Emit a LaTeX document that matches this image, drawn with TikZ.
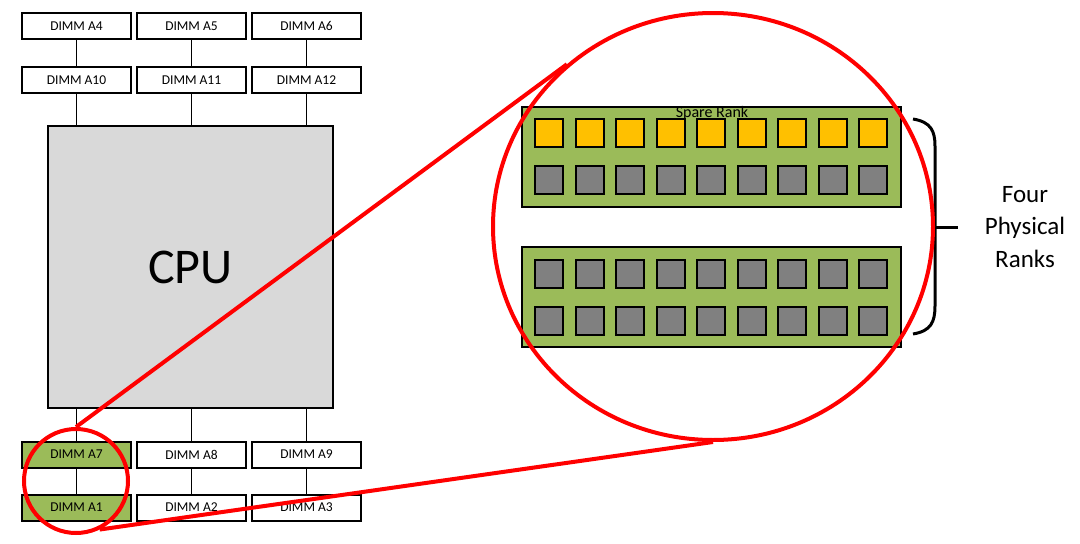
\documentclass[tikz,border=0pt]{standalone}
\usepackage{fontspec}
\setmainfont{Carlito}
\usetikzlibrary{positioning, shapes.geometric}
\definecolor{dimmgreen}{HTML}{9BBB59}
\definecolor{cpugray}{HTML}{D9D9D9}
\definecolor{chipgray}{HTML}{808080}
\definecolor{chiporange}{HTML}{FFC000}
\tikzset{
  dimm/.style={draw, line width=2pt, fill=white, minimum width=109pt, minimum height=26pt, inner sep=0pt, font=\fontsize{13.5}{14}\selectfont},
  used/.style={dimm, fill=dimmgreen},
  bus/.style={line width=1.8pt},
  module/.style={draw, line width=2pt, fill=dimmgreen, minimum width=379pt, minimum height=100pt, inner sep=0pt},
  chip/.style={draw, line width=2pt, fill=#1, minimum size=28pt, inner sep=0pt},
  zoom/.style={draw=red, line width=4pt},
}
\begin{document}
\begin{tikzpicture}[x=1pt, y=-1pt]
  \useasboundingbox (0,0) rectangle (1080,544);
  % CPU and its channels
  \node[draw, line width=2pt, fill=cpugray, minimum width=285pt, minimum height=282pt, inner sep=0pt,
        font=\fontsize{50}{52}\selectfont] (cpu) at (190.5,267) {CPU};
  \node[dimm] (a4) at (76.5,26) {DIMM A4};
  \node[dimm] (a5) at (191.5,26) {DIMM A5};
  \node[dimm] (a6) at (306.5,26) {DIMM A6};
  \node[dimm] (a10) at (76.5,80) {DIMM A10};
  \node[dimm] (a11) at (191.5,80) {DIMM A11};
  \node[dimm] (a12) at (306.5,80) {DIMM A12};
  \node[used] (a7) at (76.5,454.5) {DIMM A7};
  \node[dimm] (a8) at (191.5,454.5) {DIMM A8};
  \node[dimm] (a9) at (306.5,454.5) {DIMM A9};
  \node[used] (a1) at (76.5,507.5) {DIMM A1};
  \node[dimm] (a2) at (191.5,507.5) {DIMM A2};
  \node[dimm] (a3) at (306.5,507.5) {DIMM A3};
  \draw[bus] (a4) -- (a10);
  \draw[bus] (a5) -- (a11);
  \draw[bus] (a6) -- (a12);
  \draw[bus] (a10) -- (a10 |- cpu.north);
  \draw[bus] (a11) -- (a11 |- cpu.north);
  \draw[bus] (a12) -- (a12 |- cpu.north);
  \draw[bus] (a7 |- cpu.south) -- (a7);
  \draw[bus] (a8 |- cpu.south) -- (a8);
  \draw[bus] (a9 |- cpu.south) -- (a9);
  \draw[bus] (a7) -- (a1);
  \draw[bus] (a8) -- (a2);
  \draw[bus] (a9) -- (a3);
  % one DIMM, four ranks
  \node[module] (top) at (711.5,156.5) {};
  \node[module] (bot) at (711.5,297) {};
  \foreach \i in {0,...,8} {
    \node[chip=chiporange] (s\i) at (549+40.5*\i,133) {};
    \node[chip=chipgray] (r\i) at (549+40.5*\i,180) {};
    \node[chip=chipgray] (p\i) at (549+40.5*\i,274) {};
    \node[chip=chipgray] (q\i) at (549+40.5*\i,321) {};
  }
  \node[font=\fontsize{16}{17}\selectfont, inner sep=0pt] (spare) at (712,113) {Spare Rank};
  \draw[line width=3pt] (913,119) .. controls (931,122) and (935,131) .. (935,146)
    -- (935,306) .. controls (935,322) and (931,331) .. (913,334);
  \draw[line width=3pt] (935,227) -- (958,227);
  \node[align=center, font=\fontsize{25}{32.5}\selectfont] (ranks) at (1025,227) {Four\\Physical\\Ranks};
  % magnifier
  \node[zoom, circle, minimum size=104pt, inner sep=0pt] (lens) at (76,481) {};
  \node[zoom, ellipse, minimum width=440pt, minimum height=427pt, inner sep=0pt] (view) at (713,226.5) {};
  \draw[zoom] (lens.north) -- (view.132.5);
  \draw[zoom] (lens.-64) -- (view.south);
\end{tikzpicture}
\end{document}
